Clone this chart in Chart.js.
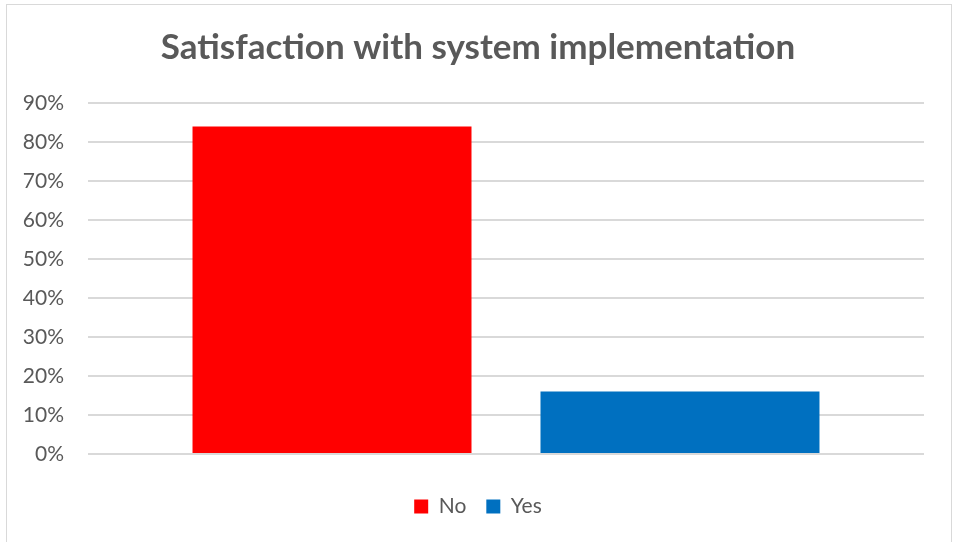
<!DOCTYPE html>
<html>
<head>
<meta charset="utf-8">
<script src="https://cdn.jsdelivr.net/npm/chart.js@4"></script>
<style>
  html, body { margin: 0; padding: 0; background: #fff; overflow: hidden; }
  canvas { display: block; }
</style>
</head>
<body>
<canvas id="chart" width="954" height="542"></canvas>
<script>
// Chart data
const categories = [''];
const seriesNames = ['No', 'Yes'];
const seriesValues = [[84], [16]];
const seriesColors = ['#FF0000', '#0070C0'];
const yTicks = [0, 10, 20, 30, 40, 50, 60, 70, 80, 90];

const textColor = '#595959';

// light frame round the chart, like the Excel chart border
const framePlugin = {
    id: 'frame',
    beforeDraw(chart) {
        const ctx = chart.ctx;
        ctx.save();
        ctx.fillStyle = '#fff';
        ctx.fillRect(0, 0, chart.width, chart.height);
        ctx.strokeStyle = '#d9d9d9';
        ctx.lineWidth = 1;
        ctx.strokeRect(6.5, 4.5, 945, 560);
        ctx.restore();
    }
};

const ctx = document.getElementById('chart').getContext('2d');
const chart = new Chart(ctx, {
    type: 'bar',
    data: {
        labels: categories,
        datasets: seriesNames.map((name, i) => ({
            label: name,
            data: seriesValues[i],
            backgroundColor: seriesColors[i],
            borderWidth: 0,
            categoryPercentage: 0.8325,
            barPercentage: 0.8017
        }))
    },
    plugins: [framePlugin],
    options: {
        responsive: false,
        animation: false,
        devicePixelRatio: 1,
        layout: { padding: { left: 5, right: 3, top: 0, bottom: 15 } },
        plugins: {
            title: {
                display: true,
                text: 'Satisfaction with system implementation',
                color: textColor,
                font: { family: 'Lato', size: 35, weight: 'bold' },
                padding: { top: 27, bottom: 34 }
            },
            legend: {
                position: 'bottom',
                labels: {
                    color: textColor,
                    font: { family: 'Lato', size: 21 },
                    boxWidth: 14,
                    boxHeight: 14,
                    padding: 20
                }
            },
            tooltip: { enabled: false }
        },
        scales: {
            x: {
                afterFit(scale) { scale.height = 22; },
                ticks: { display: false },
                grid: { display: false, drawTicks: false },
                border: { display: false }
            },
            y: {
                min: 0,
                max: 90,
                afterBuildTicks(scale) {
                    scale.ticks = yTicks.map(v => ({ value: v }));
                },
                afterFit(scale) { scale.width = 83; },
                ticks: {
                    color: textColor,
                    font: { family: 'Lato', size: 21 },
                    padding: 24,
                    callback: v => v + '%'
                },
                grid: { color: '#d9d9d9', lineWidth: 2, drawTicks: false },
                border: { display: false }
            },
            // empty right axis, only keeps the plot off the right edge
            yRight: {
                position: 'right',
                min: 0,
                max: 90,
                afterFit(scale) { scale.width = 27; },
                ticks: { display: false },
                grid: { display: false, drawTicks: false },
                border: { display: false }
            }
        }
    }
});
</script>
</body>
</html>
